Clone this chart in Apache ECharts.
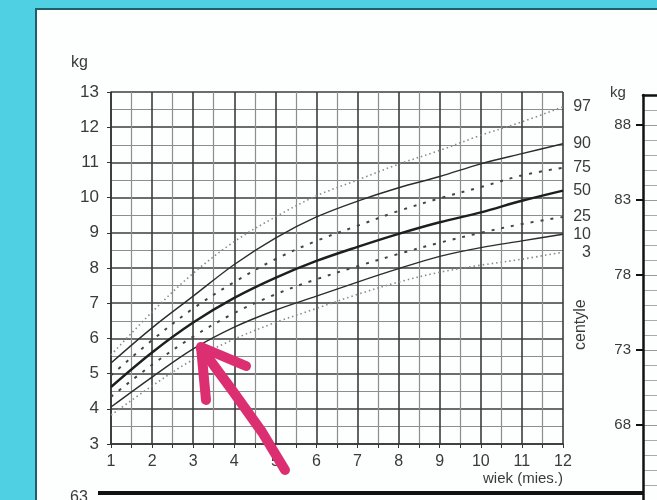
<!DOCTYPE html>
<html>
<head>
<meta charset="utf-8">
<script src="https://cdn.jsdelivr.net/npm/echarts@6/dist/echarts.min.js"></script>
<style>
html,body{margin:0;padding:0;width:657px;height:500px;overflow:hidden;background:#4fd1e3;}
#paper{position:absolute;left:35px;top:8px;width:640px;height:500px;background:#fdfefe;border-left:2px solid #1f5f6a;border-top:2px solid #1f5f6a;}
#chart{position:absolute;left:0;top:0;width:657px;height:500px;}
</style>
</head>
<body>
<div id="paper"></div>
<div id="chart"></div>
<script>
// ---- data ----
const months = [1, 2, 3, 4, 5, 6, 7, 8, 9, 10, 11, 12];
const centileNames = ['97', '90', '75', '50', '25', '10', '3'];
const p97 = [5.53, 6.75, 7.85, 8.75, 9.45, 10.05, 10.50, 10.95, 11.34, 11.77, 12.15, 12.58];
const p90 = [5.30, 6.30, 7.20, 8.10, 8.85, 9.45, 9.90, 10.28, 10.60, 10.96, 11.25, 11.53];
const p75 = [4.95, 5.95, 6.85, 7.60, 8.25, 8.77, 9.20, 9.62, 9.98, 10.30, 10.63, 10.85];
const p50 = [4.62, 5.60, 6.45, 7.15, 7.72, 8.20, 8.60, 8.97, 9.30, 9.58, 9.91, 10.20];
const p25 = [4.34, 5.25, 6.05, 6.72, 7.25, 7.68, 8.05, 8.40, 8.72, 9.00, 9.25, 9.45];
const p10 = [4.05, 4.90, 5.70, 6.32, 6.80, 7.20, 7.60, 7.98, 8.33, 8.58, 8.77, 8.96];
const p3  = [3.82, 4.65, 5.40, 5.98, 6.45, 6.85, 7.25, 7.60, 7.88, 8.08, 8.25, 8.45];
const xTicks = [1, 12, 1];      // min, max, step
const yTicks = [3, 13, 1];
const rightKgTicks = [63, 90, 5];
// --------------------------------------

const chart = echarts.init(document.getElementById('chart'));
const FONT = 'Liberation Sans';
const TXT = '#3a3a3a';

const styles = {
  '97': {color: '#8a8a8a', width: 1.6, type: [1.5, 3]},
  '90': {color: '#2c2c2c', width: 1.4, type: 'solid'},
  '75': {color: '#444', width: 2, type: [3, 7]},
  '50': {color: '#1e1e1e', width: 2.4, type: 'solid'},
  '25': {color: '#444', width: 2, type: [3, 7]},
  '10': {color: '#2c2c2c', width: 1.4, type: 'solid'},
  '3':  {color: '#8a8a8a', width: 1.6, type: [1.5, 3]}
};
const values = {'97': p97, '90': p90, '75': p75, '50': p50, '25': p25, '10': p10, '3': p3};

const series = centileNames.map(n => ({
  name: n,
  type: 'line',
  xAxisIndex: 0, yAxisIndex: 0,
  smooth: 0.35,
  symbol: 'none',
  data: months.map((m, i) => [m, values[n][i]]),
  lineStyle: styles[n],
  endLabel: {
    show: true,
    formatter: n,
    color: TXT,
    fontFamily: FONT,
    fontSize: 16,
    align: 'right',
    distance: 28
  },
  z: 3
}));

chart.setOption({
  animation: false,
  grid: [
    {left: 111, right: 94, top: 92, bottom: 56, show: false},
    {left: 643, width: 30, top: 95, bottom: 0, show: false}
  ],
  xAxis: [
    {
      type: 'value', gridIndex: 0,
      min: xTicks[0], max: xTicks[1], interval: xTicks[2],
      axisLine: {show: true, lineStyle: {color: '#333', width: 1.5}},
      axisTick: {show: true, length: 4, lineStyle: {color: '#333'}},
      minorTick: {show: true, splitNumber: 2, length: 4, lineStyle: {color: '#333'}},
      axisLabel: {color: TXT, fontFamily: FONT, fontSize: 16, margin: 10},
      splitLine: {show: true, lineStyle: {color: '#3c3c3c', width: 1.6}},
      minorSplitLine: {show: true, lineStyle: {color: '#8d8d8d', width: 1.2}}
    },
    {
      type: 'value', gridIndex: 1, position: 'top',
      min: 0, max: 1,
      axisLine: {show: true, lineStyle: {color: '#111', width: 2.5}},
      axisTick: {show: false}, axisLabel: {show: false}, splitLine: {show: false}
    }
  ],
  yAxis: [
    {
      type: 'value', gridIndex: 0,
      min: yTicks[0], max: yTicks[1], interval: yTicks[2],
      axisLine: {show: true, lineStyle: {color: '#333', width: 1.5}},
      axisTick: {show: true, length: 4, lineStyle: {color: '#333'}},
      axisLabel: {color: TXT, fontFamily: FONT, fontSize: 17, margin: 12},
      splitLine: {show: true, lineStyle: {color: '#3c3c3c', width: 1.6}},
      minorTick: {show: false, splitNumber: 2},
      minorSplitLine: {show: true, lineStyle: {color: '#8d8d8d', width: 1.2}}
    },
    {
      type: 'value', gridIndex: 1,
      min: rightKgTicks[0], max: rightKgTicks[1], interval: rightKgTicks[2],
      axisLine: {show: true, lineStyle: {color: '#111', width: 2.5}},
      axisTick: {show: true, inside: false, length: 7, lineStyle: {color: '#111', width: 2}},
      axisLabel: {color: TXT, fontFamily: FONT, fontSize: 15, margin: 12, showMinLabel: false, showMaxLabel: false},
      splitLine: {show: true, lineStyle: {color: '#999', width: 1}},
      minorTick: {show: false, splitNumber: 5},
      minorSplitLine: {show: true, lineStyle: {color: '#aaa', width: 1}}
    }
  ],
  series: series,
  graphic: [
    {type: 'text', left: 71, top: 55, style: {text: 'kg', fill: TXT, font: '16px "Liberation Sans"'}},
    {type: 'text', left: 610, top: 85, style: {text: 'kg', fill: TXT, font: '15px "Liberation Sans"'}},
    {type: 'text', right: 94, top: 471, style: {text: 'wiek (mies.)', fill: TXT, font: '15px "Liberation Sans"', textAlign: 'right'}},
    {type: 'text', x: 573, y: 350, rotation: Math.PI / 2, style: {text: 'centyle', fill: TXT, font: '16px "Liberation Sans"'}},
    {type: 'line', shape: {x1: 98, y1: 493, x2: 643, y2: 493}, style: {stroke: '#111', lineWidth: 4}},
    {type: 'text', left: 70, top: 490, style: {text: '63', fill: TXT, font: '16px "Liberation Sans"'}},
    {type: 'polyline', z: 10, shape: {points: [[285, 470], [262, 432], [232, 390], [201, 348]]},
      style: {stroke: '#dc2f72', lineWidth: 10, lineCap: 'round', lineJoin: 'round', fill: null}},
    {type: 'polyline', z: 10, shape: {points: [[246, 366], [201, 347], [206, 400]]},
      style: {stroke: '#dc2f72', lineWidth: 10, lineCap: 'round', lineJoin: 'round', fill: null}}
  ]
});
</script>
</body>
</html>
